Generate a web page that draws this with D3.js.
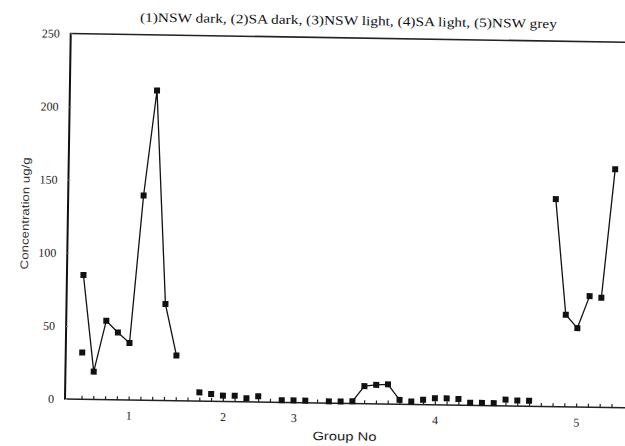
<!DOCTYPE html>
<meta charset="utf-8">
<html>
<head>
<style>
    body { margin: 0; background: #fff; }
    svg { display: block; }
</style>
</head>
<body>
<div id="chart"></div>
<script src="https://d3js.org/d3.v7.min.js"></script>
<script>
    // sample index 0..45 along the x axis, null = no sample
    var conc = [85, 19, 54, 46, 39, 140, 212, 66, 31, null,
                6, 5, 4, 4, 2.5, 4, null, 1.5, 1.5, 1.5,
                null, 1.2, 1.3, 1.5, 12, 13, 13.5, 3, 2, 3.3,
                4.5, 4.5, 4.2, 1.8, 1.8, 1.8, 4.3, 3.8, 3.8, null,
                142, 63, 54, 76, 75, 163];
    // runs of samples joined by a line [first, last]
    var lineRuns = [[0, 8], [23, 27], [40, 43], [44, 45]];
    // a second reading drawn at the first sample
    var extraIdx = [0];
    var extraConc = [32];

    var groupLabels = ["1", "2", "3", "4", "5"];
    var groupLabelAt = [4, 12, 18, 30, 42];
    var yTicks = [0, 50, 100, 150, 200, 250];
    var title = "(1)NSW dark, (2)SA dark, (3)NSW light, (4)SA light, (5)NSW grey";

    var W = 625, H = 446;
    var ox = 65, oy = 399;   // axis corner

    var svg = d3.select("#chart").append("svg")
        .attr("width", W).attr("height", H);

    // the scanned page is slightly skewed
    var g = svg.append("g")
        .attr("transform", "rotate(0.9," + ox + "," + oy + ")");

    var x = d3.scaleLinear().domain([0, 45]).range([81.5, 611.5]);
    var y = d3.scaleLinear().domain([0, 250]).range([oy, 33.5]);

    // frame: left axis, bottom axis, top line
    g.append("line").attr("x1", ox).attr("x2", ox).attr("y1", y(250)).attr("y2", oy)
        .attr("stroke", "#111").attr("stroke-width", 2);
    g.append("line").attr("x1", ox - 1).attr("x2", W + 20).attr("y1", oy).attr("y2", oy)
        .attr("stroke", "#222").attr("stroke-width", 1.4);
    g.append("line").attr("x1", ox - 1).attr("x2", W + 20).attr("y1", y(250)).attr("y2", y(250))
        .attr("stroke", "#222").attr("stroke-width", 1.6);

    // y axis
    var yAxis = g.append("g")
        .attr("transform", "translate(" + ox + ",0)")
        .call(d3.axisLeft(y).tickValues(yTicks).tickSize(-2).tickPadding(11));
    yAxis.select(".domain").remove();
    yAxis.selectAll("line").attr("stroke", "#999");
    yAxis.selectAll("text")
        .style("font-family", "Liberation Serif")
        .style("font-size", "12px")
        .attr("fill", "#222");

    // small ticks at every sample
    var xTicks = g.append("g")
        .attr("transform", "translate(0," + oy + ")")
        .call(d3.axisBottom(x).tickValues(d3.range(46)).tickSize(-3.5).tickFormat(""));
    xTicks.select(".domain").remove();
    xTicks.selectAll("line").attr("stroke", "#222").attr("stroke-width", 1.2);

    // group numbers
    var xLab = g.append("g")
        .attr("transform", "translate(0," + oy + ")")
        .call(d3.axisBottom(x).tickValues(groupLabelAt).tickSize(0).tickPadding(11)
            .tickFormat(function (d, i) { return groupLabels[i]; }));
    xLab.select(".domain").remove();
    xLab.selectAll("text")
        .style("font-family", "Liberation Serif")
        .style("font-size", "12px")
        .attr("fill", "#222");

    // lines
    var line = d3.line()
        .x(function (d) { return x(d); })
        .y(function (d) { return y(conc[d]); });
    g.selectAll(".run")
        .data(lineRuns)
        .enter().append("path")
        .attr("class", "run")
        .attr("d", function (r) { return line(d3.range(r[0], r[1] + 1)); })
        .attr("fill", "none")
        .attr("stroke", "#111")
        .attr("stroke-width", 1.3);

    // markers
    var pts = d3.range(conc.length).filter(function (i) { return conc[i] != null; })
        .map(function (i) { return { i: i, v: conc[i] }; });
    extraIdx.forEach(function (i, k) { pts.push({ i: i, v: extraConc[k] }); });
    g.selectAll(".pt")
        .data(pts)
        .enter().append("rect")
        .attr("class", "pt")
        .attr("x", function (d) { return x(d.i) - 3; })
        .attr("y", function (d) { return y(d.v) - 3; })
        .attr("width", 6)
        .attr("height", 6)
        .attr("fill", "#111");

    // titles
    g.append("text")
        .attr("x", 134).attr("y", 20.5)
        .attr("textLength", 417).attr("lengthAdjust", "spacingAndGlyphs")
        .style("font-family", "Liberation Serif")
        .style("font-size", "13px")
        .attr("fill", "#111")
        .text(title);

    g.append("text")
        .attr("transform", "translate(26," + 214 + ") rotate(-90)")
        .attr("text-anchor", "middle")
        .attr("textLength", 112).attr("lengthAdjust", "spacingAndGlyphs")
        .style("font-family", "Liberation Sans")
        .style("font-size", "11px")
        .attr("fill", "#333")
        .text("Concentration ug/g");

    g.append("text")
        .attr("x", 313).attr("y", 436)
        .attr("textLength", 64).attr("lengthAdjust", "spacingAndGlyphs")
        .style("font-family", "Liberation Sans")
        .style("font-size", "12px")
        .attr("fill", "#222")
        .text("Group No");
</script>
</body>
</html>
